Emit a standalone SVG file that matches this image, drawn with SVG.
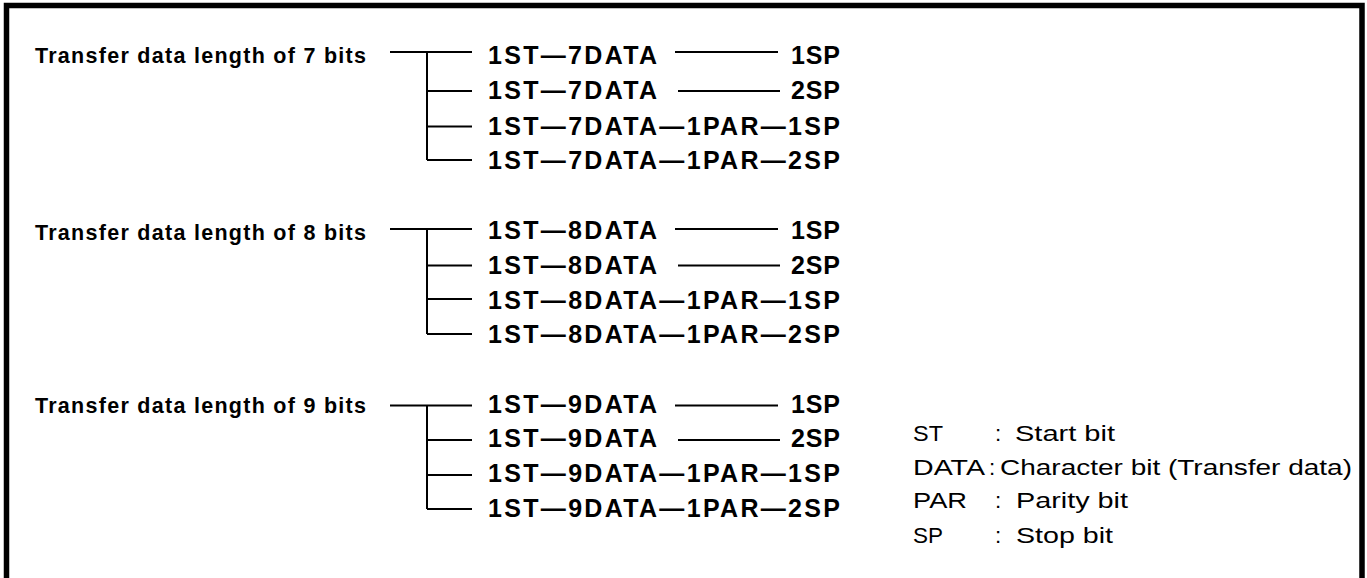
<svg xmlns="http://www.w3.org/2000/svg" width="1367" height="578" viewBox="0 0 1367 578">
<style>
.frame{fill:none;stroke:#000;stroke-width:5.5}
.ln{fill:none;stroke:#000;stroke-width:2}
.lbl{font-family:"Liberation Sans",Arial,sans-serif;font-weight:bold;font-size:21.5px;fill:#000}
.row{font-family:"Liberation Sans",Arial,sans-serif;font-weight:bold;font-size:25px;fill:#000}
.leg{font-family:"Liberation Sans",Arial,sans-serif;font-size:22.4px;fill:#000}
</style>
<rect width="1367" height="578" fill="#fff"/>
<path class="frame" d="M6.5,580 V5.5 H1362 V580"/>
<g id="connectors">
  <path class="ln" d="M390,52 H472 M427,52 V160 M427,91 H472 M427,126.5 H472 M427,160 H472 M675,52 H778 M678,91 H780"/>
  <path class="ln" d="M390,229 H472 M427,229 V334 M427,265.5 H472 M427,299 H472 M427,334 H472 M675,229 H778 M678,265.5 H780"/>
  <path class="ln" d="M390,405.5 H472 M427,405.5 V509 M427,440 H472 M427,475 H472 M427,509 H472 M675,405.5 H778 M678,440 H780"/>
</g>
<g id="group7">
  <text class="lbl" x="35" y="63" textLength="331" lengthAdjust="spacing">Transfer data length of 7 bits</text>
  <text class="row" x="488" y="64" textLength="169" lengthAdjust="spacing">1ST—7DATA</text>
  <text class="row" x="791" y="64" textLength="49" lengthAdjust="spacing">1SP</text>
  <text class="row" x="488" y="99" textLength="169" lengthAdjust="spacing">1ST—7DATA</text>
  <text class="row" x="791" y="99" textLength="49" lengthAdjust="spacing">2SP</text>
  <text class="row" x="488" y="135" textLength="352" lengthAdjust="spacing">1ST—7DATA—1PAR—1SP</text>
  <text class="row" x="488" y="169" textLength="352" lengthAdjust="spacing">1ST—7DATA—1PAR—2SP</text>
</g>
<g id="group8">
  <text class="lbl" x="35" y="240" textLength="331" lengthAdjust="spacing">Transfer data length of 8 bits</text>
  <text class="row" x="488" y="239" textLength="169" lengthAdjust="spacing">1ST—8DATA</text>
  <text class="row" x="791" y="239" textLength="49" lengthAdjust="spacing">1SP</text>
  <text class="row" x="488" y="274" textLength="169" lengthAdjust="spacing">1ST—8DATA</text>
  <text class="row" x="791" y="274" textLength="49" lengthAdjust="spacing">2SP</text>
  <text class="row" x="488" y="309" textLength="352" lengthAdjust="spacing">1ST—8DATA—1PAR—1SP</text>
  <text class="row" x="488" y="343" textLength="352" lengthAdjust="spacing">1ST—8DATA—1PAR—2SP</text>
</g>
<g id="group9">
  <text class="lbl" x="35" y="413" textLength="331" lengthAdjust="spacing">Transfer data length of 9 bits</text>
  <text class="row" x="488" y="413" textLength="169" lengthAdjust="spacing">1ST—9DATA</text>
  <text class="row" x="791" y="413" textLength="49" lengthAdjust="spacing">1SP</text>
  <text class="row" x="488" y="447" textLength="169" lengthAdjust="spacing">1ST—9DATA</text>
  <text class="row" x="791" y="447" textLength="49" lengthAdjust="spacing">2SP</text>
  <text class="row" x="488" y="482" textLength="352" lengthAdjust="spacing">1ST—9DATA—1PAR—1SP</text>
  <text class="row" x="488" y="517" textLength="352" lengthAdjust="spacing">1ST—9DATA—1PAR—2SP</text>
</g>
<g id="legend">
  <text class="leg" x="913" y="441" textLength="30" lengthAdjust="spacingAndGlyphs">ST</text>
  <text class="leg" x="995" y="441">:</text>
  <text class="leg" x="1015" y="441" textLength="100" lengthAdjust="spacingAndGlyphs">Start bit</text>
  <text class="leg" x="913" y="475" textLength="72" lengthAdjust="spacingAndGlyphs">DATA</text>
  <text class="leg" x="989" y="475">:</text>
  <text class="leg" x="1000" y="475" textLength="352" lengthAdjust="spacingAndGlyphs">Character bit (Transfer data)</text>
  <text class="leg" x="913" y="508" textLength="54" lengthAdjust="spacingAndGlyphs">PAR</text>
  <text class="leg" x="995" y="508">:</text>
  <text class="leg" x="1016" y="508" textLength="112" lengthAdjust="spacingAndGlyphs">Parity bit</text>
  <text class="leg" x="913" y="543" textLength="30" lengthAdjust="spacingAndGlyphs">SP</text>
  <text class="leg" x="995" y="543">:</text>
  <text class="leg" x="1016" y="543" textLength="97" lengthAdjust="spacingAndGlyphs">Stop bit</text>
</g>
</svg>
